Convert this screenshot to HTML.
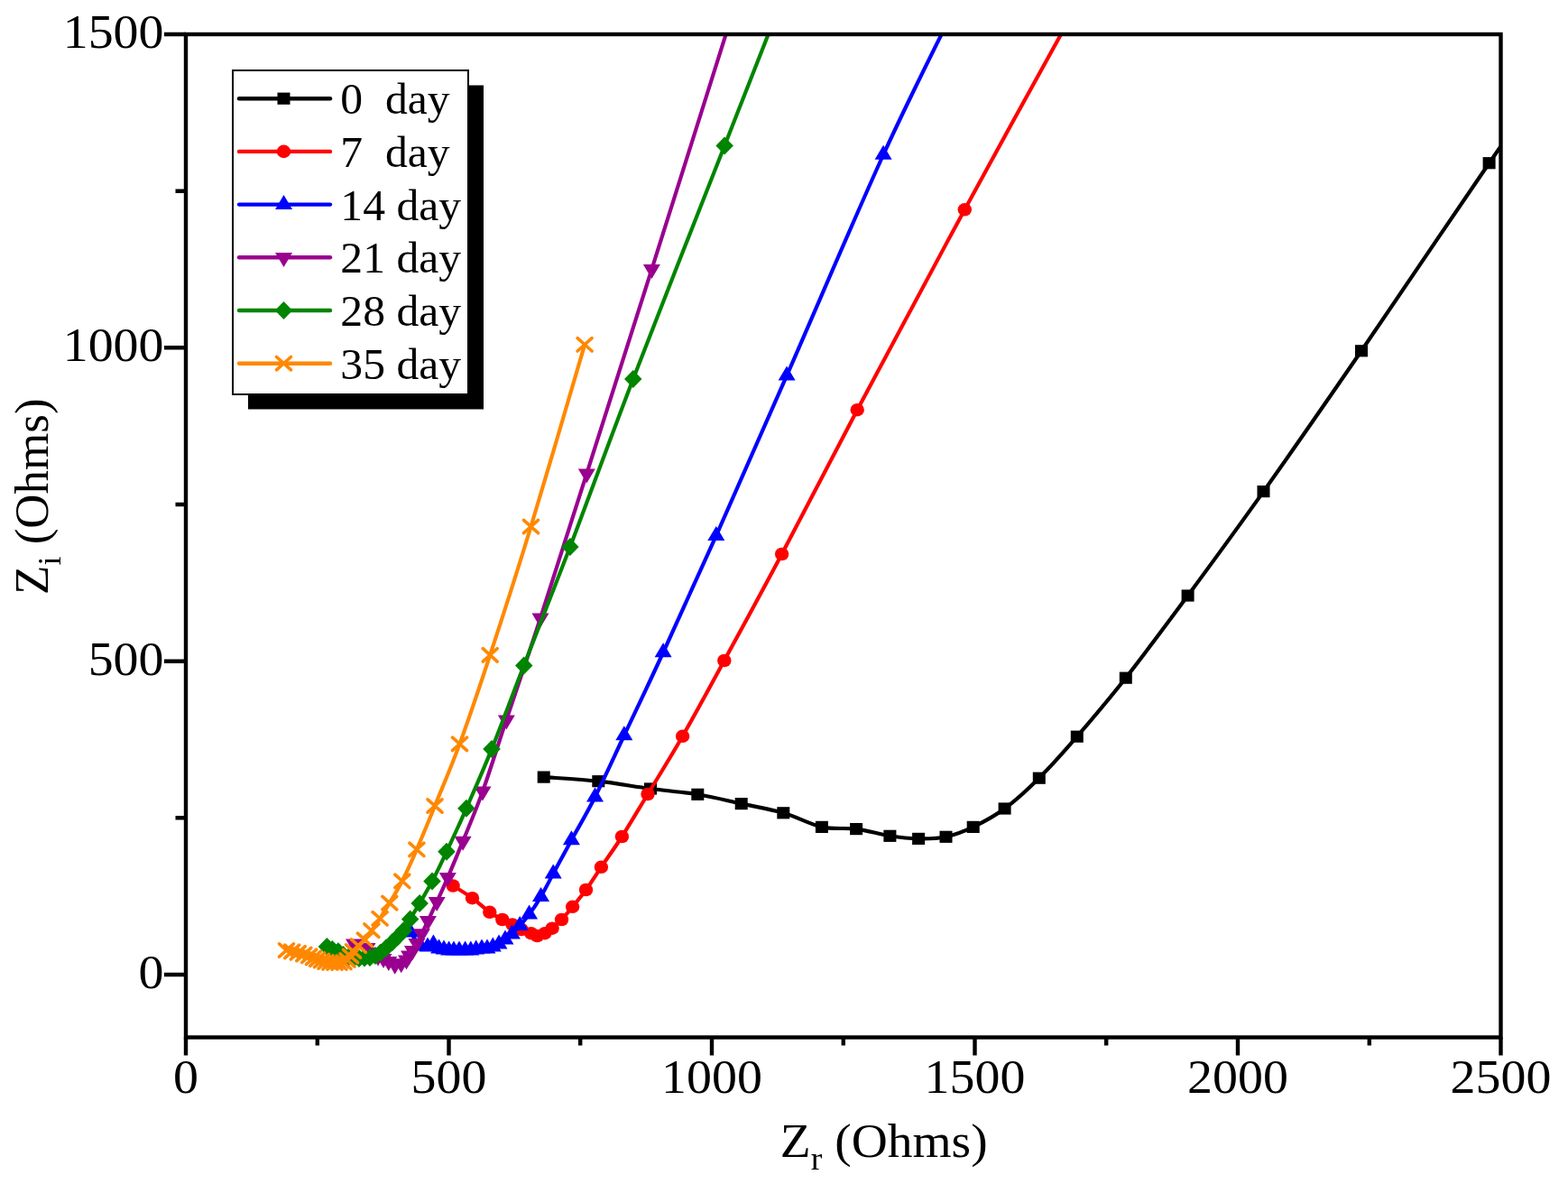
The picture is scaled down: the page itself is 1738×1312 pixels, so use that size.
<!DOCTYPE html>
<html><head><meta charset="utf-8"><title>Nyquist plot</title>
<style>html,body{margin:0;padding:0;background:#fff;}svg{display:block;}</style>
</head><body>
<svg width="1738" height="1312" viewBox="0 0 1738 1312">
<defs><clipPath id="pc"><rect x="206" y="38" width="1457.5" height="1111.5"/></clipPath></defs>
<rect width="1738" height="1312" fill="#fff"/>
<g clip-path="url(#pc)">
<path d="M602.7,861.1 C612.8,861.9 643.6,863.6 663.3,865.7 C683.0,867.9 702.7,871.6 721.0,874.0 C739.3,876.4 756.5,877.5 773.3,880.3 C790.1,883.1 805.9,887.2 821.7,890.6 C837.5,894.0 853.4,896.5 868.3,900.8 C883.2,905.1 897.4,913.4 910.9,916.4 C924.4,919.4 936.5,917.0 949.1,918.6 C961.7,920.2 974.9,924.5 986.4,926.3 C997.9,928.1 1007.8,929.2 1018.1,929.4 C1028.5,929.6 1038.4,929.5 1048.5,927.3 C1058.6,925.1 1067.9,921.6 1078.7,916.4 C1089.5,911.2 1101.4,905.0 1113.6,896.0 C1125.8,887.0 1138.4,875.5 1151.8,862.2 C1165.2,848.9 1177.8,834.7 1193.8,816.2 C1209.8,797.7 1227.3,777.2 1247.8,751.2 C1268.3,725.2 1291.1,694.4 1316.6,660.0 C1342.0,625.6 1368.4,589.8 1400.5,544.6 C1432.6,499.4 1467.3,449.5 1509.0,388.8 C1550.7,328.1 1603.8,248.8 1650.6,180.7 C1697.4,112.6 1766.8,13.4 1790.0,-20.0" fill="none" stroke="#000000" stroke-width="4.2" stroke-linejoin="round" stroke-linecap="round"/>
<rect x="595.7" y="854.5" width="14" height="13.2" fill="#000000"/>
<rect x="656.3" y="859.1" width="14" height="13.2" fill="#000000"/>
<rect x="714.0" y="867.4" width="14" height="13.2" fill="#000000"/>
<rect x="766.3" y="873.7" width="14" height="13.2" fill="#000000"/>
<rect x="814.7" y="884.0" width="14" height="13.2" fill="#000000"/>
<rect x="861.3" y="894.2" width="14" height="13.2" fill="#000000"/>
<rect x="903.9" y="909.8" width="14" height="13.2" fill="#000000"/>
<rect x="942.1" y="912.0" width="14" height="13.2" fill="#000000"/>
<rect x="979.4" y="919.7" width="14" height="13.2" fill="#000000"/>
<rect x="1011.1" y="922.8" width="14" height="13.2" fill="#000000"/>
<rect x="1041.5" y="920.7" width="14" height="13.2" fill="#000000"/>
<rect x="1071.7" y="909.8" width="14" height="13.2" fill="#000000"/>
<rect x="1106.6" y="889.4" width="14" height="13.2" fill="#000000"/>
<rect x="1144.8" y="855.6" width="14" height="13.2" fill="#000000"/>
<rect x="1186.8" y="809.6" width="14" height="13.2" fill="#000000"/>
<rect x="1240.8" y="744.6" width="14" height="13.2" fill="#000000"/>
<rect x="1309.6" y="653.4" width="14" height="13.2" fill="#000000"/>
<rect x="1393.5" y="538.0" width="14" height="13.2" fill="#000000"/>
<rect x="1502.0" y="382.2" width="14" height="13.2" fill="#000000"/>
<rect x="1643.6" y="174.1" width="14" height="13.2" fill="#000000"/>
<path d="M502.1,981.5 C505.7,983.8 516.7,990.3 523.5,995.2 C530.3,1000.1 537.2,1006.8 542.8,1010.8 C548.3,1014.8 552.6,1016.7 556.8,1019.0 C561.0,1021.3 564.5,1022.7 568.0,1024.5 C571.5,1026.3 574.5,1028.4 578.0,1030.0 C581.5,1031.6 585.8,1033.0 588.7,1034.2 C591.6,1035.4 593.0,1037.0 595.5,1037.0 C598.0,1037.0 601.1,1035.6 603.9,1034.2 C606.7,1032.8 609.0,1031.2 612.1,1028.7 C615.2,1026.2 618.8,1023.0 622.5,1019.0 C626.2,1015.0 630.1,1010.3 634.6,1004.8 C639.1,999.3 644.2,993.3 649.5,986.0 C654.8,978.7 659.8,970.6 666.4,960.8 C673.0,951.0 680.8,940.5 689.4,927.0 C698.0,913.5 706.8,898.5 718.0,880.0 C729.2,861.5 742.5,840.5 756.6,815.8 C770.7,791.1 784.5,765.6 802.8,732.0 C821.1,698.4 842.0,660.3 866.6,614.0 C891.2,567.7 916.4,517.8 950.2,454.2 C984.0,390.6 1027.2,309.7 1069.3,232.3 C1111.3,154.9 1180.3,30.4 1202.5,-10.0" fill="none" stroke="#ff0000" stroke-width="4.2" stroke-linejoin="round" stroke-linecap="round"/>
<ellipse cx="502.1" cy="981.5" rx="7.7" ry="7.3" fill="#ff0000"/>
<ellipse cx="523.5" cy="995.2" rx="7.7" ry="7.3" fill="#ff0000"/>
<ellipse cx="542.8" cy="1010.8" rx="7.7" ry="7.3" fill="#ff0000"/>
<ellipse cx="556.8" cy="1019.0" rx="7.7" ry="7.3" fill="#ff0000"/>
<ellipse cx="568.0" cy="1024.5" rx="7.7" ry="7.3" fill="#ff0000"/>
<ellipse cx="578.0" cy="1030.0" rx="7.7" ry="7.3" fill="#ff0000"/>
<ellipse cx="588.7" cy="1034.2" rx="7.7" ry="7.3" fill="#ff0000"/>
<ellipse cx="595.5" cy="1037.0" rx="7.7" ry="7.3" fill="#ff0000"/>
<ellipse cx="603.9" cy="1034.2" rx="7.7" ry="7.3" fill="#ff0000"/>
<ellipse cx="612.1" cy="1028.7" rx="7.7" ry="7.3" fill="#ff0000"/>
<ellipse cx="622.5" cy="1019.0" rx="7.7" ry="7.3" fill="#ff0000"/>
<ellipse cx="634.6" cy="1004.8" rx="7.7" ry="7.3" fill="#ff0000"/>
<ellipse cx="649.5" cy="986.0" rx="7.7" ry="7.3" fill="#ff0000"/>
<ellipse cx="666.4" cy="960.8" rx="7.7" ry="7.3" fill="#ff0000"/>
<ellipse cx="689.4" cy="927.0" rx="7.7" ry="7.3" fill="#ff0000"/>
<ellipse cx="718.0" cy="880.0" rx="7.7" ry="7.3" fill="#ff0000"/>
<ellipse cx="756.6" cy="815.8" rx="7.7" ry="7.3" fill="#ff0000"/>
<ellipse cx="802.8" cy="732.0" rx="7.7" ry="7.3" fill="#ff0000"/>
<ellipse cx="866.6" cy="614.0" rx="7.7" ry="7.3" fill="#ff0000"/>
<ellipse cx="950.2" cy="454.2" rx="7.7" ry="7.3" fill="#ff0000"/>
<ellipse cx="1069.3" cy="232.3" rx="7.7" ry="7.3" fill="#ff0000"/>
<path d="M455.0,1033.3 C456.8,1035.8 462.8,1045.6 466.0,1048.3 C469.2,1051.0 471.6,1049.6 474.0,1049.3 C476.4,1049.0 478.3,1046.0 480.4,1046.3 C482.5,1046.6 484.7,1050.3 486.6,1051.3 C488.5,1052.3 490.2,1052.0 492.0,1052.3 C493.8,1052.6 495.8,1053.1 497.6,1053.3 C499.4,1053.5 501.1,1053.3 503.0,1053.3 C504.9,1053.3 506.9,1053.3 509.0,1053.3 C511.1,1053.3 513.5,1053.3 515.6,1053.3 C517.7,1053.3 519.8,1053.5 521.8,1053.3 C523.8,1053.1 525.7,1052.6 527.7,1052.3 C529.7,1052.0 532.0,1051.5 534.0,1051.3 C536.0,1051.1 538.0,1051.6 540.0,1051.3 C542.0,1051.0 544.1,1050.1 546.3,1049.3 C548.5,1048.5 550.7,1047.6 553.0,1046.3 C555.3,1045.0 557.6,1043.1 560.0,1041.3 C562.4,1039.5 564.7,1037.9 567.4,1035.3 C570.1,1032.7 573.0,1029.3 576.2,1025.6 C579.4,1021.9 582.7,1018.6 586.6,1013.3 C590.5,1008.0 595.1,1001.1 599.5,993.6 C603.9,986.1 607.6,978.6 613.2,968.1 C618.9,957.6 625.7,945.0 633.4,930.9 C641.1,916.8 649.8,902.5 659.5,883.2 C669.2,863.9 679.2,841.7 691.8,815.0 C704.4,788.3 718.1,759.9 735.1,723.0 C752.1,686.1 771.0,644.8 793.8,593.6 C816.6,542.5 841.2,486.5 872.1,416.1 C903.0,345.8 947.0,241.7 979.1,171.5 C1011.2,101.3 1050.7,24.4 1065.0,-5.0" fill="none" stroke="#0000ff" stroke-width="4.2" stroke-linejoin="round" stroke-linecap="round"/>
<path d="M455.0,1022.6 L464.5,1038.6 L445.5,1038.6Z" fill="#0000ff"/>
<path d="M466.0,1037.6 L475.5,1053.6 L456.5,1053.6Z" fill="#0000ff"/>
<path d="M474.0,1038.6 L483.5,1054.6 L464.5,1054.6Z" fill="#0000ff"/>
<path d="M480.4,1035.6 L489.9,1051.6 L470.9,1051.6Z" fill="#0000ff"/>
<path d="M486.6,1040.6 L496.1,1056.6 L477.1,1056.6Z" fill="#0000ff"/>
<path d="M492.0,1041.6 L501.5,1057.6 L482.5,1057.6Z" fill="#0000ff"/>
<path d="M497.6,1042.6 L507.1,1058.6 L488.1,1058.6Z" fill="#0000ff"/>
<path d="M503.0,1042.6 L512.5,1058.6 L493.5,1058.6Z" fill="#0000ff"/>
<path d="M509.0,1042.6 L518.5,1058.6 L499.5,1058.6Z" fill="#0000ff"/>
<path d="M515.6,1042.6 L525.1,1058.6 L506.1,1058.6Z" fill="#0000ff"/>
<path d="M521.8,1042.6 L531.3,1058.6 L512.3,1058.6Z" fill="#0000ff"/>
<path d="M527.7,1041.6 L537.2,1057.6 L518.2,1057.6Z" fill="#0000ff"/>
<path d="M534.0,1040.6 L543.5,1056.6 L524.5,1056.6Z" fill="#0000ff"/>
<path d="M540.0,1040.6 L549.5,1056.6 L530.5,1056.6Z" fill="#0000ff"/>
<path d="M546.3,1038.6 L555.8,1054.6 L536.8,1054.6Z" fill="#0000ff"/>
<path d="M553.0,1035.6 L562.5,1051.6 L543.5,1051.6Z" fill="#0000ff"/>
<path d="M560.0,1030.6 L569.5,1046.6 L550.5,1046.6Z" fill="#0000ff"/>
<path d="M567.4,1024.6 L576.9,1040.6 L557.9,1040.6Z" fill="#0000ff"/>
<path d="M576.2,1014.9 L585.7,1030.9 L566.7,1030.9Z" fill="#0000ff"/>
<path d="M586.6,1002.6 L596.1,1018.6 L577.1,1018.6Z" fill="#0000ff"/>
<path d="M599.5,982.9 L609.0,998.9 L590.0,998.9Z" fill="#0000ff"/>
<path d="M613.2,957.4 L622.7,973.4 L603.7,973.4Z" fill="#0000ff"/>
<path d="M633.4,920.2 L642.9,936.2 L623.9,936.2Z" fill="#0000ff"/>
<path d="M659.5,872.5 L669.0,888.5 L650.0,888.5Z" fill="#0000ff"/>
<path d="M691.8,804.3 L701.3,820.3 L682.3,820.3Z" fill="#0000ff"/>
<path d="M735.1,712.3 L744.6,728.3 L725.6,728.3Z" fill="#0000ff"/>
<path d="M793.8,582.9 L803.3,598.9 L784.3,598.9Z" fill="#0000ff"/>
<path d="M872.1,405.4 L881.6,421.4 L862.6,421.4Z" fill="#0000ff"/>
<path d="M979.1,160.8 L988.6,176.8 L969.6,176.8Z" fill="#0000ff"/>
<path d="M392.5,1045.9 C394.9,1046.7 403.6,1048.8 407.0,1050.4 C410.4,1052.0 411.0,1053.9 413.0,1055.4 C415.0,1057.0 417.0,1058.5 419.0,1059.7 C421.0,1060.9 423.0,1061.5 425.0,1062.4 C427.0,1063.3 428.7,1064.1 430.8,1065.2 C432.9,1066.3 435.4,1068.6 437.7,1069.0 C440.0,1069.4 442.6,1068.5 444.7,1067.6 C446.8,1066.7 449.0,1065.2 450.5,1063.8 C452.0,1062.3 452.4,1060.6 453.5,1058.9 C454.6,1057.2 456.0,1055.7 457.4,1053.4 C458.8,1051.2 460.2,1048.5 461.9,1045.4 C463.6,1042.3 465.3,1038.8 467.4,1034.6 C469.5,1030.4 471.6,1026.2 474.4,1020.3 C477.2,1014.4 480.5,1007.4 484.2,999.4 C487.9,991.4 491.5,983.5 496.3,972.3 C501.1,961.1 506.7,947.9 513.1,932.0 C519.6,916.1 527.0,899.3 535.0,876.9 C543.0,854.5 550.6,829.7 561.3,797.7 C572.0,765.7 584.2,730.3 599.0,684.8 C613.8,639.3 629.7,589.2 650.3,524.8 C670.9,460.4 694.9,384.9 722.4,298.3 C749.9,211.7 799.6,53.9 815.0,5.0" fill="none" stroke="#99008f" stroke-width="4.2" stroke-linejoin="round" stroke-linecap="round"/>
<path d="M383.0,1040.6 L402.0,1040.6 L392.5,1056.6Z" fill="#99008f"/>
<path d="M397.5,1045.1 L416.5,1045.1 L407.0,1061.1Z" fill="#99008f"/>
<path d="M403.5,1050.1 L422.5,1050.1 L413.0,1066.1Z" fill="#99008f"/>
<path d="M409.5,1054.4 L428.5,1054.4 L419.0,1070.4Z" fill="#99008f"/>
<path d="M415.5,1057.1 L434.5,1057.1 L425.0,1073.1Z" fill="#99008f"/>
<path d="M421.3,1059.9 L440.3,1059.9 L430.8,1075.9Z" fill="#99008f"/>
<path d="M428.2,1063.7 L447.2,1063.7 L437.7,1079.7Z" fill="#99008f"/>
<path d="M435.2,1062.3 L454.2,1062.3 L444.7,1078.3Z" fill="#99008f"/>
<path d="M441.0,1058.5 L460.0,1058.5 L450.5,1074.5Z" fill="#99008f"/>
<path d="M444.0,1053.6 L463.0,1053.6 L453.5,1069.6Z" fill="#99008f"/>
<path d="M447.9,1048.1 L466.9,1048.1 L457.4,1064.1Z" fill="#99008f"/>
<path d="M452.4,1040.1 L471.4,1040.1 L461.9,1056.1Z" fill="#99008f"/>
<path d="M457.9,1029.3 L476.9,1029.3 L467.4,1045.3Z" fill="#99008f"/>
<path d="M464.9,1015.0 L483.9,1015.0 L474.4,1031.0Z" fill="#99008f"/>
<path d="M474.7,994.1 L493.7,994.1 L484.2,1010.1Z" fill="#99008f"/>
<path d="M486.8,967.0 L505.8,967.0 L496.3,983.0Z" fill="#99008f"/>
<path d="M503.6,926.7 L522.6,926.7 L513.1,942.7Z" fill="#99008f"/>
<path d="M525.5,871.6 L544.5,871.6 L535.0,887.6Z" fill="#99008f"/>
<path d="M551.8,792.4 L570.8,792.4 L561.3,808.4Z" fill="#99008f"/>
<path d="M589.5,679.5 L608.5,679.5 L599.0,695.5Z" fill="#99008f"/>
<path d="M640.8,519.5 L659.8,519.5 L650.3,535.5Z" fill="#99008f"/>
<path d="M712.9,293.0 L731.9,293.0 L722.4,309.0Z" fill="#99008f"/>
<path d="M362.4,1049.1 C363.4,1049.6 366.2,1051.0 368.3,1051.9 C370.4,1052.8 372.9,1053.3 374.9,1054.3 C376.9,1055.3 378.5,1056.9 380.4,1058.0 C382.2,1059.1 384.1,1060.3 386.0,1061.0 C387.9,1061.7 390.0,1061.8 392.0,1062.0 C394.0,1062.2 396.0,1062.1 398.0,1062.0 C400.0,1061.9 402.0,1061.7 404.0,1061.5 C406.0,1061.3 408.0,1061.4 410.0,1061.0 C412.0,1060.6 414.0,1059.9 416.0,1059.0 C418.0,1058.1 420.0,1056.9 422.0,1055.5 C424.0,1054.1 425.8,1052.4 428.0,1050.5 C430.2,1048.6 432.8,1046.1 435.0,1044.0 C437.2,1041.9 438.9,1040.2 441.0,1038.0 C443.1,1035.8 445.2,1034.2 447.5,1031.0 C449.8,1027.8 451.7,1023.6 454.6,1018.6 C457.5,1013.6 461.0,1008.0 465.1,1001.0 C469.2,994.0 474.0,986.0 479.0,976.5 C484.0,967.0 488.7,957.2 495.0,943.8 C501.3,930.3 508.6,914.8 516.9,895.8 C525.2,876.8 534.4,856.5 545.0,830.1 C555.6,803.7 566.2,774.9 580.7,737.6 C595.2,700.3 611.7,659.0 631.9,606.1 C652.1,553.2 673.3,494.1 701.8,420.0 C730.3,345.9 776.3,229.8 803.1,161.5 C829.9,93.2 852.7,35.2 862.6,10.0" fill="none" stroke="#008500" stroke-width="4.2" stroke-linejoin="round" stroke-linecap="round"/>
<path d="M362.4,1039.1 L372.1,1049.1 L362.4,1059.1 L352.6,1049.1Z" fill="#008500"/>
<path d="M368.3,1041.9 L378.1,1051.9 L368.3,1061.9 L358.6,1051.9Z" fill="#008500"/>
<path d="M374.9,1044.3 L384.6,1054.3 L374.9,1064.3 L365.1,1054.3Z" fill="#008500"/>
<path d="M380.4,1048.0 L390.1,1058.0 L380.4,1068.0 L370.6,1058.0Z" fill="#008500"/>
<path d="M386.0,1051.0 L395.8,1061.0 L386.0,1071.0 L376.2,1061.0Z" fill="#008500"/>
<path d="M392.0,1052.0 L401.8,1062.0 L392.0,1072.0 L382.2,1062.0Z" fill="#008500"/>
<path d="M398.0,1052.0 L407.8,1062.0 L398.0,1072.0 L388.2,1062.0Z" fill="#008500"/>
<path d="M404.0,1051.5 L413.8,1061.5 L404.0,1071.5 L394.2,1061.5Z" fill="#008500"/>
<path d="M410.0,1051.0 L419.8,1061.0 L410.0,1071.0 L400.2,1061.0Z" fill="#008500"/>
<path d="M416.0,1049.0 L425.8,1059.0 L416.0,1069.0 L406.2,1059.0Z" fill="#008500"/>
<path d="M422.0,1045.5 L431.8,1055.5 L422.0,1065.5 L412.2,1055.5Z" fill="#008500"/>
<path d="M428.0,1040.5 L437.8,1050.5 L428.0,1060.5 L418.2,1050.5Z" fill="#008500"/>
<path d="M435.0,1034.0 L444.8,1044.0 L435.0,1054.0 L425.2,1044.0Z" fill="#008500"/>
<path d="M441.0,1028.0 L450.8,1038.0 L441.0,1048.0 L431.2,1038.0Z" fill="#008500"/>
<path d="M447.5,1021.0 L457.2,1031.0 L447.5,1041.0 L437.8,1031.0Z" fill="#008500"/>
<path d="M454.6,1008.6 L464.4,1018.6 L454.6,1028.6 L444.9,1018.6Z" fill="#008500"/>
<path d="M465.1,991.0 L474.9,1001.0 L465.1,1011.0 L455.4,1001.0Z" fill="#008500"/>
<path d="M479.0,966.5 L488.8,976.5 L479.0,986.5 L469.2,976.5Z" fill="#008500"/>
<path d="M495.0,933.8 L504.8,943.8 L495.0,953.8 L485.2,943.8Z" fill="#008500"/>
<path d="M516.9,885.8 L526.6,895.8 L516.9,905.8 L507.1,895.8Z" fill="#008500"/>
<path d="M545.0,820.1 L554.8,830.1 L545.0,840.1 L535.2,830.1Z" fill="#008500"/>
<path d="M580.7,727.6 L590.5,737.6 L580.7,747.6 L571.0,737.6Z" fill="#008500"/>
<path d="M631.9,596.1 L641.6,606.1 L631.9,616.1 L622.1,606.1Z" fill="#008500"/>
<path d="M701.8,410.0 L711.5,420.0 L701.8,430.0 L692.0,420.0Z" fill="#008500"/>
<path d="M803.1,151.5 L812.9,161.5 L803.1,171.5 L793.4,161.5Z" fill="#008500"/>
<path d="M317.5,1053.0 C318.5,1053.2 321.6,1053.9 323.7,1054.4 C325.8,1054.9 328.1,1055.3 330.3,1055.8 C332.5,1056.3 334.7,1056.9 336.8,1057.5 C338.9,1058.1 340.9,1058.7 342.7,1059.3 C344.5,1059.9 346.0,1060.7 347.5,1061.3 C349.0,1061.9 350.2,1062.6 351.7,1063.1 C353.2,1063.6 354.9,1064.0 356.5,1064.5 C358.1,1065.0 359.4,1065.6 361.0,1066.0 C362.6,1066.4 364.3,1066.6 366.0,1066.8 C367.7,1067.0 369.3,1067.0 371.0,1067.0 C372.7,1067.0 374.3,1067.1 376.0,1067.0 C377.7,1066.9 379.5,1066.8 381.0,1066.3 C382.5,1065.8 383.8,1065.1 385.0,1064.0 C386.2,1062.9 387.4,1061.2 388.5,1059.5 C389.6,1057.8 390.0,1055.9 391.5,1054.0 C393.0,1052.1 395.2,1050.1 397.3,1048.0 C399.4,1045.9 401.9,1044.1 404.3,1041.3 C406.7,1038.5 409.1,1035.1 411.9,1031.2 C414.7,1027.3 417.8,1022.9 421.1,1017.8 C424.4,1012.7 427.7,1007.5 431.8,1000.6 C435.9,993.7 440.8,986.2 445.8,976.3 C450.8,966.4 455.9,955.2 461.9,941.3 C467.9,927.4 474.1,912.5 482.0,893.0 C489.9,873.5 499.3,852.2 509.5,824.4 C519.7,796.5 530.0,766.0 543.2,725.9 C556.4,685.8 571.0,640.9 588.5,583.5 C606.0,526.1 638.2,415.4 648.1,381.8" fill="none" stroke="#ff8800" stroke-width="4.2" stroke-linejoin="round" stroke-linecap="round"/>
<path d="M309.5,1045.8 L325.5,1060.2 M325.5,1045.8 L309.5,1060.2" stroke="#ff8800" stroke-width="3.6" stroke-linecap="round" fill="none"/>
<path d="M315.7,1047.2 L331.7,1061.6 M331.7,1047.2 L315.7,1061.6" stroke="#ff8800" stroke-width="3.6" stroke-linecap="round" fill="none"/>
<path d="M322.3,1048.6 L338.3,1063.0 M338.3,1048.6 L322.3,1063.0" stroke="#ff8800" stroke-width="3.6" stroke-linecap="round" fill="none"/>
<path d="M328.8,1050.3 L344.8,1064.7 M344.8,1050.3 L328.8,1064.7" stroke="#ff8800" stroke-width="3.6" stroke-linecap="round" fill="none"/>
<path d="M334.7,1052.1 L350.7,1066.5 M350.7,1052.1 L334.7,1066.5" stroke="#ff8800" stroke-width="3.6" stroke-linecap="round" fill="none"/>
<path d="M339.5,1054.1 L355.5,1068.5 M355.5,1054.1 L339.5,1068.5" stroke="#ff8800" stroke-width="3.6" stroke-linecap="round" fill="none"/>
<path d="M343.7,1055.9 L359.7,1070.3 M359.7,1055.9 L343.7,1070.3" stroke="#ff8800" stroke-width="3.6" stroke-linecap="round" fill="none"/>
<path d="M348.5,1057.3 L364.5,1071.7 M364.5,1057.3 L348.5,1071.7" stroke="#ff8800" stroke-width="3.6" stroke-linecap="round" fill="none"/>
<path d="M353.0,1058.8 L369.0,1073.2 M369.0,1058.8 L353.0,1073.2" stroke="#ff8800" stroke-width="3.6" stroke-linecap="round" fill="none"/>
<path d="M358.0,1059.6 L374.0,1074.0 M374.0,1059.6 L358.0,1074.0" stroke="#ff8800" stroke-width="3.6" stroke-linecap="round" fill="none"/>
<path d="M363.0,1059.8 L379.0,1074.2 M379.0,1059.8 L363.0,1074.2" stroke="#ff8800" stroke-width="3.6" stroke-linecap="round" fill="none"/>
<path d="M368.0,1059.8 L384.0,1074.2 M384.0,1059.8 L368.0,1074.2" stroke="#ff8800" stroke-width="3.6" stroke-linecap="round" fill="none"/>
<path d="M373.0,1059.1 L389.0,1073.5 M389.0,1059.1 L373.0,1073.5" stroke="#ff8800" stroke-width="3.6" stroke-linecap="round" fill="none"/>
<path d="M377.0,1056.8 L393.0,1071.2 M393.0,1056.8 L377.0,1071.2" stroke="#ff8800" stroke-width="3.6" stroke-linecap="round" fill="none"/>
<path d="M380.5,1052.3 L396.5,1066.7 M396.5,1052.3 L380.5,1066.7" stroke="#ff8800" stroke-width="3.6" stroke-linecap="round" fill="none"/>
<path d="M383.5,1046.8 L399.5,1061.2 M399.5,1046.8 L383.5,1061.2" stroke="#ff8800" stroke-width="3.6" stroke-linecap="round" fill="none"/>
<path d="M389.3,1040.8 L405.3,1055.2 M405.3,1040.8 L389.3,1055.2" stroke="#ff8800" stroke-width="3.6" stroke-linecap="round" fill="none"/>
<path d="M396.3,1034.1 L412.3,1048.5 M412.3,1034.1 L396.3,1048.5" stroke="#ff8800" stroke-width="3.6" stroke-linecap="round" fill="none"/>
<path d="M403.9,1024.0 L419.9,1038.4 M419.9,1024.0 L403.9,1038.4" stroke="#ff8800" stroke-width="3.6" stroke-linecap="round" fill="none"/>
<path d="M413.1,1010.6 L429.1,1025.0 M429.1,1010.6 L413.1,1025.0" stroke="#ff8800" stroke-width="3.6" stroke-linecap="round" fill="none"/>
<path d="M423.8,993.4 L439.8,1007.8 M439.8,993.4 L423.8,1007.8" stroke="#ff8800" stroke-width="3.6" stroke-linecap="round" fill="none"/>
<path d="M437.8,969.1 L453.8,983.5 M453.8,969.1 L437.8,983.5" stroke="#ff8800" stroke-width="3.6" stroke-linecap="round" fill="none"/>
<path d="M453.9,934.1 L469.9,948.5 M469.9,934.1 L453.9,948.5" stroke="#ff8800" stroke-width="3.6" stroke-linecap="round" fill="none"/>
<path d="M474.0,885.8 L490.0,900.2 M490.0,885.8 L474.0,900.2" stroke="#ff8800" stroke-width="3.6" stroke-linecap="round" fill="none"/>
<path d="M501.5,817.2 L517.5,831.6 M517.5,817.2 L501.5,831.6" stroke="#ff8800" stroke-width="3.6" stroke-linecap="round" fill="none"/>
<path d="M535.2,718.7 L551.2,733.1 M551.2,718.7 L535.2,733.1" stroke="#ff8800" stroke-width="3.6" stroke-linecap="round" fill="none"/>
<path d="M580.5,576.3 L596.5,590.7 M596.5,576.3 L580.5,590.7" stroke="#ff8800" stroke-width="3.6" stroke-linecap="round" fill="none"/>
<path d="M640.1,374.6 L656.1,389.0 M656.1,374.6 L640.1,389.0" stroke="#ff8800" stroke-width="3.6" stroke-linecap="round" fill="none"/>
</g>
<rect x="206" y="38" width="1457.5" height="1111.5" fill="none" stroke="#000" stroke-width="4.4"/>
<path d="M206.0,1149.5 V1169.5 M351.8,1149.5 V1158.5 M497.5,1149.5 V1169.5 M643.2,1149.5 V1158.5 M789.0,1149.5 V1169.5 M934.8,1149.5 V1158.5 M1080.5,1149.5 V1169.5 M1226.2,1149.5 V1158.5 M1372.0,1149.5 V1169.5 M1517.8,1149.5 V1158.5 M1663.5,1149.5 V1169.5 M206.0,1080.0 H182.0 M206.0,906.3 H194.5 M206.0,732.7 H182.0 M206.0,559.0 H194.5 M206.0,385.3 H182.0 M206.0,211.7 H194.5 M206.0,38.0 H182.0" stroke="#000" stroke-width="4.4" fill="none"/>
<text transform="translate(206.0,1211) scale(1.055,1)" font-family="Liberation Serif, Times New Roman, serif" font-size="53" text-anchor="middle">0</text>
<text transform="translate(497.5,1211) scale(1.055,1)" font-family="Liberation Serif, Times New Roman, serif" font-size="53" text-anchor="middle">500</text>
<text transform="translate(789.0,1211) scale(1.055,1)" font-family="Liberation Serif, Times New Roman, serif" font-size="53" text-anchor="middle">1000</text>
<text transform="translate(1080.5,1211) scale(1.055,1)" font-family="Liberation Serif, Times New Roman, serif" font-size="53" text-anchor="middle">1500</text>
<text transform="translate(1372.0,1211) scale(1.055,1)" font-family="Liberation Serif, Times New Roman, serif" font-size="53" text-anchor="middle">2000</text>
<text transform="translate(1663.5,1211) scale(1.055,1)" font-family="Liberation Serif, Times New Roman, serif" font-size="53" text-anchor="middle">2500</text>
<text transform="translate(181.5,1095.0) scale(1.055,1)" font-family="Liberation Serif, Times New Roman, serif" font-size="53" text-anchor="end">0</text>
<text transform="translate(181.5,747.7) scale(1.055,1)" font-family="Liberation Serif, Times New Roman, serif" font-size="53" text-anchor="end">500</text>
<text transform="translate(181.5,400.3) scale(1.055,1)" font-family="Liberation Serif, Times New Roman, serif" font-size="53" text-anchor="end">1000</text>
<text transform="translate(181.5,53.0) scale(1.055,1)" font-family="Liberation Serif, Times New Roman, serif" font-size="53" text-anchor="end">1500</text>
<text transform="translate(979.75,1282) scale(1.047,1)" font-family="Liberation Serif, Times New Roman, serif" font-size="53" text-anchor="middle">Z<tspan font-size="36" dy="14">r</tspan><tspan dy="-14"> (Ohms)</tspan></text>
<text transform="translate(52.5,550.2) rotate(-90)" font-family="Liberation Serif, Times New Roman, serif" font-size="53" text-anchor="middle">Z<tspan font-size="36" dy="14">i</tspan><tspan dy="-14"> (Ohms)</tspan></text>
<rect x="275" y="94.5" width="261" height="359" fill="#000"/>
<rect x="258" y="78" width="261" height="359" fill="#fff" stroke="#000" stroke-width="2"/>
<path d="M265,109.2 H366" stroke="#000000" stroke-width="4.4" stroke-linecap="round"/>
<rect x="307.5" y="102.6" width="14" height="13.2" fill="#000000"/>
<text transform="translate(377.3,126.2) scale(1.035,1)" font-family="Liberation Serif, Times New Roman, serif" font-size="48" xml:space="preserve">0  day</text>
<path d="M265,167.9 H366" stroke="#ff0000" stroke-width="4.4" stroke-linecap="round"/>
<ellipse cx="314.5" cy="167.9" rx="7.7" ry="7.3" fill="#ff0000"/>
<text transform="translate(377.3,184.9) scale(1.035,1)" font-family="Liberation Serif, Times New Roman, serif" font-size="48" xml:space="preserve">7  day</text>
<path d="M265,226.6 H366" stroke="#0000ff" stroke-width="4.4" stroke-linecap="round"/>
<path d="M314.5,215.9 L324.0,231.9 L305.0,231.9Z" fill="#0000ff"/>
<text transform="translate(377.3,243.6) scale(1.035,1)" font-family="Liberation Serif, Times New Roman, serif" font-size="48" xml:space="preserve">14 day</text>
<path d="M265,285.3 H366" stroke="#99008f" stroke-width="4.4" stroke-linecap="round"/>
<path d="M305.0,280.0 L324.0,280.0 L314.5,296.0Z" fill="#99008f"/>
<text transform="translate(377.3,302.3) scale(1.035,1)" font-family="Liberation Serif, Times New Roman, serif" font-size="48" xml:space="preserve">21 day</text>
<path d="M265,344.0 H366" stroke="#008500" stroke-width="4.4" stroke-linecap="round"/>
<path d="M314.5,334.0 L324.2,344.0 L314.5,354.0 L304.8,344.0Z" fill="#008500"/>
<text transform="translate(377.3,361.0) scale(1.035,1)" font-family="Liberation Serif, Times New Roman, serif" font-size="48" xml:space="preserve">28 day</text>
<path d="M265,402.7 H366" stroke="#ff8800" stroke-width="4.4" stroke-linecap="round"/>
<path d="M306.5,395.5 L322.5,409.9 M322.5,395.5 L306.5,409.9" stroke="#ff8800" stroke-width="3.6" stroke-linecap="round" fill="none"/>
<text transform="translate(377.3,419.7) scale(1.035,1)" font-family="Liberation Serif, Times New Roman, serif" font-size="48" xml:space="preserve">35 day</text>
</svg>
</body></html>
